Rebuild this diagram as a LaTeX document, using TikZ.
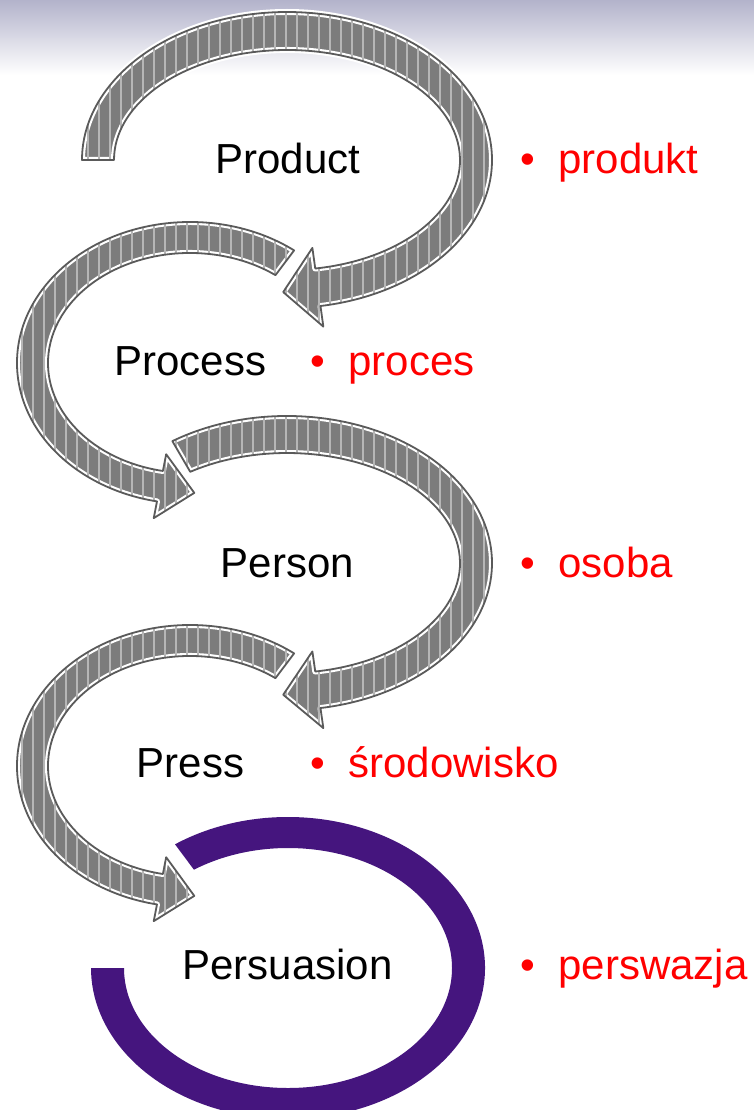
\documentclass[tikz,border=0pt]{standalone}
\usepackage{fontspec}
\setmainfont{Liberation Sans}
\usetikzlibrary{calc}
\definecolor{arrgray}{HTML}{7C7C7C}
\definecolor{arredge}{HTML}{5A5A5A}
\definecolor{stripe}{HTML}{B6B6B6}
\definecolor{ringpurple}{HTML}{45157E}
\definecolor{topgrad}{HTML}{B3B3CB}
\definecolor{labelred}{HTML}{FF0000}
% #1 cx, #2 cy, #3 rx outer, #4 ry outer, #5 rx inner, #6 ry inner, #7 start, #8 end, #9 turn
\newcommand\arcarrowpath[8]{%
  ($(C)+(#7:#3 and #4)$)
     arc[start angle=#7, end angle=#8, x radius=#3, y radius=#4]
     -- (Bo) -- (T) -- (Bi) -- (Pi)
     arc[start angle=#8, end angle=#7, x radius=#5, y radius=#6] -- cycle}
\newcommand\arcarrow[9]{%
  \coordinate (C) at (#1,#2);
  \coordinate (Po) at ($(C)+(#8:#3 and #4)$);
  \coordinate (Pi) at ($(C)+(#8:#5 and #6)$);
  \coordinate (M) at ($(Po)!0.5!(Pi)$);
  \coordinate (Bo) at ($(M)!2.1!(Po)$);
  \coordinate (Bi) at ($(M)!2.1!(Pi)$);
  \coordinate (T) at ($(M)!35pt!#9:(Po)$);
  \path[halo] \arcarrowpath{#1}{#2}{#3}{#4}{#5}{#6}{#7}{#8};
  \begin{scope}
    \clip \arcarrowpath{#1}{#2}{#3}{#4}{#5}{#6}{#7}{#8};
    \foreach \sx in {0,11,...,760} {\draw[stripeline] (\sx,0) -- (\sx,1110);}
  \end{scope}
  \path[arrowedge] \arcarrowpath{#1}{#2}{#3}{#4}{#5}{#6}{#7}{#8};
}
\begin{document}
\begin{tikzpicture}[x=1pt,y=-1pt,
  halo/.style={draw=white,line width=6pt,line join=round,fill=arrgray},
  stripeline/.style={draw=stripe,line width=2.2pt},
  arrowedge/.style={draw=arredge, line width=1.8pt, line join=round},
  term/.style={font=\fontsize{42}{50}\selectfont, inner sep=0pt, anchor=base},
  trans/.style={font=\fontsize{42}{50}\selectfont, text=labelred, inner sep=0pt, anchor=base west},
]
\useasboundingbox (0,0) rectangle (754,1110);
\fill[white] (0,0) rectangle (754,1110);
\shade[top color=topgrad, bottom color=white] (0,0) rectangle (754,75);

% gray arrows
\arcarrow{287}{160}{205}{148}{173}{110}{180}{440.6}{-90}
\arcarrow{190}{363}{173}{141}{142}{110}{307}{101}{90}
\arcarrow{287}{563}{205}{147}{173}{110}{236}{440.6}{-90}
\arcarrow{190}{766}{173}{141}{142}{110}{307}{101}{90}

% purple ring
\coordinate (C5) at (288,968);
\fill[ringpurple] ($(C5)+(235:197 and 151)$)
   arc[start angle=235, end angle=540, x radius=197, y radius=151]
   -- ($(C5)+(540:164 and 120)$)
   arc[start angle=540, end angle=235, x radius=164, y radius=120] -- cycle;

% labels
\node[term] (product) at (288,174) {Product};
\node[trans] (produkt) at (520,174) {•\hspace{23.5pt}produkt};
\node[term] (process) at (190.5,375) {Process};
\node[trans] (proces) at (310,375) {•\hspace{23.5pt}proces};
\node[term] (person) at (287.5,577) {Person};
\node[trans] (osoba) at (520,577) {•\hspace{23.5pt}osoba};
\node[term] (press) at (190.5,777) {Press};
\node[trans] (srodowisko) at (310,777) {•\hspace{23.5pt}środowisko};
\node[term] (persuasion) at (287.5,979) {Persuasion};
\node[trans] (perswazja) at (520,979) {•\hspace{23.5pt}perswazja};
\end{tikzpicture}
\end{document}
